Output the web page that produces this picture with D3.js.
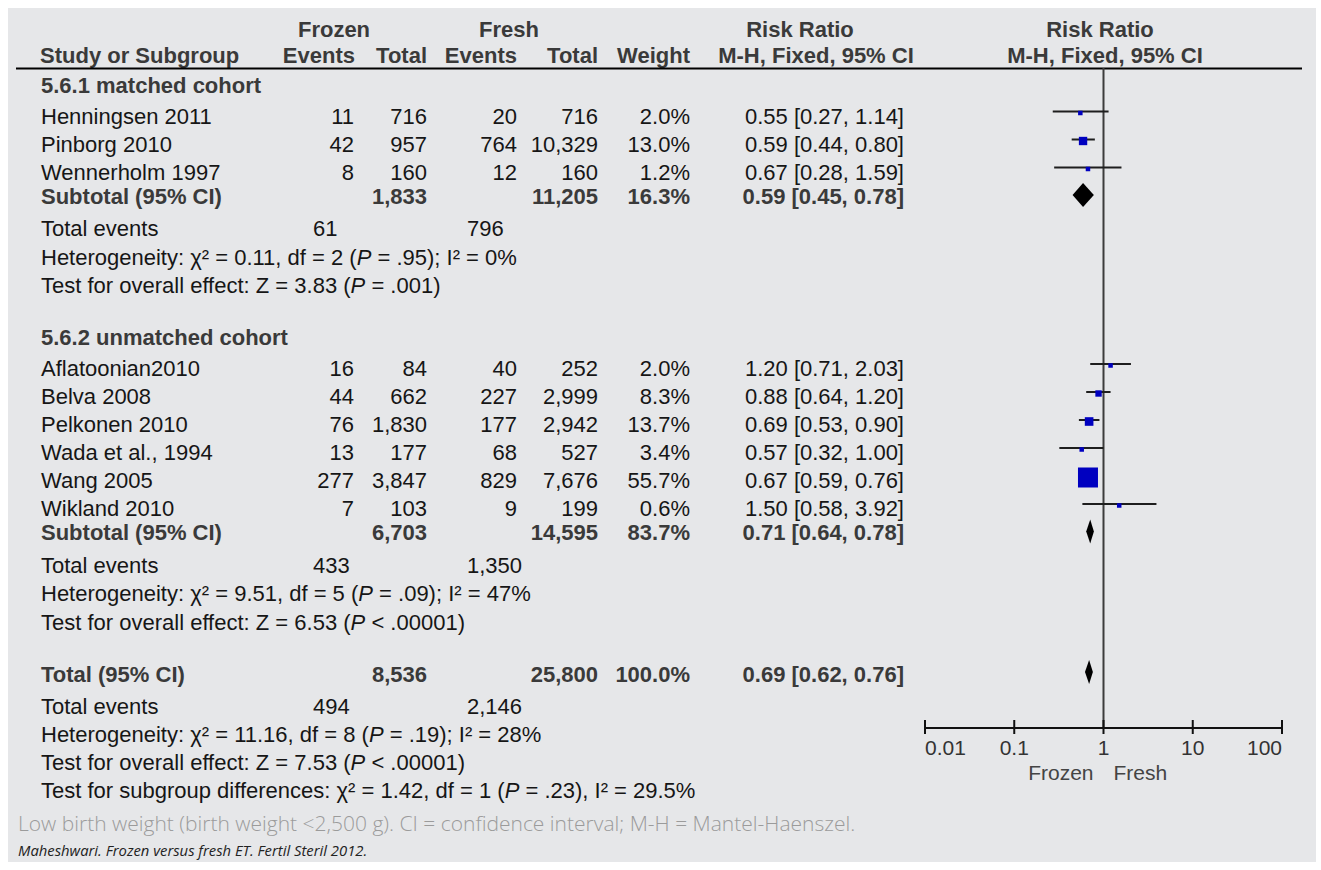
<!DOCTYPE html>
<html>
<head>
<meta charset="utf-8">
<script src="https://cdn.jsdelivr.net/npm/d3@7"></script>
<style>
  html, body { margin: 0; padding: 0; background: #ffffff; }
  svg { display: block; }
  text { font-family: "Liberation Sans", Arial, Helvetica, sans-serif; }
</style>
</head>
<body>
<svg id="chart" width="1321" height="870"></svg>
<script>
// ---- Study-level data (low birth weight, frozen vs fresh embryo transfer) ----
const studyNames     = ["Henningsen 2011", "Pinborg 2010", "Wennerholm 1997",
                        "Aflatoonian2010", "Belva 2008", "Pelkonen 2010",
                        "Wada et al., 1994", "Wang 2005", "Wikland 2010"];
const studySubgroup  = [0, 0, 0, 1, 1, 1, 1, 1, 1];
const frozenEvents   = [11, 42, 8, 16, 44, 76, 13, 277, 7];
const frozenTotals   = [716, 957, 160, 84, 662, 1830, 177, 3847, 103];
const freshEvents    = [20, 764, 12, 40, 227, 177, 68, 829, 9];
const freshTotals    = [716, 10329, 160, 252, 2999, 2942, 527, 7676, 199];
const studyWeights   = [2.0, 13.0, 1.2, 2.0, 8.3, 13.7, 3.4, 55.7, 0.6];
const studyRR        = [0.55, 0.59, 0.67, 1.20, 0.88, 0.69, 0.57, 0.67, 1.50];
const studyLower     = [0.27, 0.44, 0.28, 0.71, 0.64, 0.53, 0.32, 0.59, 0.58];
const studyUpper     = [1.14, 0.80, 1.59, 2.03, 1.20, 0.90, 1.00, 0.76, 3.92];

// ---- Subgroup summaries ----
const subgroupNames        = ["5.6.1 matched cohort", "5.6.2 unmatched cohort"];
const subgroupFrozenTotal  = [1833, 6703];
const subgroupFreshTotal   = [11205, 14595];
const subgroupWeight       = [16.3, 83.7];
const subgroupRR           = [0.59, 0.71];
const subgroupLower        = [0.45, 0.64];
const subgroupUpper        = [0.78, 0.78];
const subgroupFrozenEvents = [61, 433];
const subgroupFreshEvents  = [796, 1350];
const subgroupChi2         = ["0.11", "9.51"];
const subgroupDf           = [2, 5];
const subgroupP            = ["= .95", "= .09"];
const subgroupI2           = ["0%", "47%"];
const subgroupZ            = ["3.83", "6.53"];
const subgroupZP           = ["= .001", "< .00001"];

// ---- Overall pooled result ----
const totalFrozenTotal  = 8536;
const totalFreshTotal   = 25800;
const totalWeight       = 100.0;
const totalRR           = 0.69;
const totalLower        = 0.62;
const totalUpper        = 0.76;
const totalFrozenEvents = 494;
const totalFreshEvents  = 2146;
const totalChi2 = "11.16", totalDf = 8, totalP = "= .19", totalI2 = "28%";
const totalZ = "7.53", totalZP = "< .00001";
const diffChi2 = "1.42", diffDf = 1, diffP = "= .23", diffI2 = "29.5%";

// ---- Axis ----
const axisTicks      = [0.01, 0.1, 1, 10, 100];
const axisTickLabels = ["0.01", "0.1", "1", "10", "100"];
const favoursLabels  = ["Frozen", "Fresh"];

const footnote = "Low birth weight (birth weight <2,500 g). CI = confidence interval; M-H = Mantel-Haenszel.";
const citation = "Maheshwari. Frozen versus fresh ET. Fertil Steril 2012.";

// ---------------------------------------------------------------------------
const svg = d3.select("#chart");

const FS = 22;                  // main table font size
const DARK = "#161616";
const BOLD = "#3a3a3a";

svg.append("rect").attr("x", 8).attr("y", 8).attr("width", 1308).attr("height", 854)
  .attr("fill", "#e6e7e9");

// Column anchors (right edges unless stated)
const col = {
  label: 41,
  fzEv: 354, fzTot: 427, frEv: 517, frTot: 598, weight: 690, ci: 904,
  teFz: 313, teFr: 467
};

const x = d3.scaleLog().domain([0.01, 100]).range([925, 1282]);
const boxSize = d3.scalePow().exponent(0.6).domain([0, 55.7]).range([0, 20]);

const fmtInt = d3.format(",");
const fmtW = d => d3.format(".1f")(d) + "%";
const fmtR = d3.format(".2f");
const fmtCI = (r, l, u) => `${fmtR(r)} [${fmtR(l)}, ${fmtR(u)}]`;

function txt(xp, yp, s, opts = {}) {
  const t = svg.append("text")
    .attr("x", xp).attr("y", yp).attr("dy", "0.36em")
    .attr("font-size", opts.size || FS)
    .attr("font-weight", opts.bold ? "bold" : "normal")
    .attr("fill", opts.fill || (opts.bold ? BOLD : DARK))
    .attr("text-anchor", opts.anchor || "start")
    .text(s);
  if (opts.family) t.style("font-family", opts.family);
  if (opts.italic) t.attr("font-style", "italic");
  return t;
}

// Rich text with italic P and chi symbol
function rich(xp, yp, parts) {
  const t = svg.append("text")
    .attr("x", xp).attr("y", yp).attr("dy", "0.36em")
    .attr("font-size", FS).attr("fill", DARK);
  parts.forEach(p => {
    const ts = t.append("tspan").text(p.t);
    if (p.i) ts.attr("font-style", "italic");
  });
  return t;
}
const heteroParts = (chi, df, p, i2) => [
  { t: "Heterogeneity: χ² = " + chi + ", df = " + df + " (" },
  { t: "P", i: true }, { t: " " + p + "); I² = " + i2 }
];
const effectParts = (z, p) => [
  { t: "Test for overall effect: Z = " + z + " (" },
  { t: "P", i: true }, { t: " " + p + ")" }
];

// ---- Header ----
txt(334, 29, "Frozen", { bold: true, anchor: "middle" });
txt(509, 29, "Fresh", { bold: true, anchor: "middle" });
txt(800, 29, "Risk Ratio", { bold: true, anchor: "middle" });
txt(1100, 29, "Risk Ratio", { bold: true, anchor: "middle" });
const h2 = 55.5;
txt(col.label - 1, h2, "Study or Subgroup", { bold: true });
txt(col.fzEv + 1, h2, "Events", { bold: true, anchor: "end" });
txt(col.fzTot, h2, "Total", { bold: true, anchor: "end" });
txt(col.frEv, h2, "Events", { bold: true, anchor: "end" });
txt(col.frTot, h2, "Total", { bold: true, anchor: "end" });
txt(col.weight, h2, "Weight", { bold: true, anchor: "end" });
txt(816, h2, "M-H, Fixed, 95% CI", { bold: true, anchor: "middle" });
txt(1105, h2, "M-H, Fixed, 95% CI", { bold: true, anchor: "middle" });

svg.append("line").attr("x1", 16).attr("x2", 1302).attr("y1", 68.5).attr("y2", 68.5)
  .attr("stroke", "#000").attr("stroke-width", 2);

// ---- Vertical line of no effect ----
const axisY = 728;
svg.append("line").attr("x1", x(1)).attr("x2", x(1)).attr("y1", 68).attr("y2", axisY)
  .attr("stroke", "#3c3c3c").attr("stroke-width", 2);

// ---- Body rows ----
let y = 85;
const plotLayer = svg.append("g");

function drawDiamond(yc, r, l, u, h) {
  plotLayer.append("path")
    .attr("d", `M${x(l)},${yc} L${x(r)},${yc - h / 2} L${x(u)},${yc} L${x(r)},${yc + h / 2} Z`)
    .attr("fill", "#000");
}

subgroupNames.forEach((name, g) => {
  txt(col.label, y, name, { bold: true });
  y += 31;
  studyNames.forEach((s, i) => {
    if (studySubgroup[i] !== g) return;
    txt(col.label, y, s);
    txt(col.fzEv, y, frozenEvents[i], { anchor: "end" });
    txt(col.fzTot, y, fmtInt(frozenTotals[i]), { anchor: "end" });
    txt(col.frEv, y, freshEvents[i], { anchor: "end" });
    txt(col.frTot, y, fmtInt(freshTotals[i]), { anchor: "end" });
    txt(col.weight, y, fmtW(studyWeights[i]), { anchor: "end" });
    txt(col.ci, y, fmtCI(studyRR[i], studyLower[i], studyUpper[i]), { anchor: "end" });
    // CI whisker and weighted box
    const ly = y - 4.5;
    plotLayer.append("line")
      .attr("x1", x(studyLower[i])).attr("x2", x(studyUpper[i]))
      .attr("y1", ly).attr("y2", ly)
      .attr("stroke", "#1e1e1e").attr("stroke-width", 2);
    const b = Math.max(4.5, boxSize(studyWeights[i]));
    plotLayer.append("rect")
      .attr("x", x(studyRR[i]) - b / 2).attr("y", ly - b / 2 + 1.5)
      .attr("width", b).attr("height", b)
      .attr("fill", "#0000c0");
    y += 28;
  });
  y -= 4;
  txt(col.label, y, "Subtotal (95% CI)", { bold: true });
  txt(col.fzTot, y, fmtInt(subgroupFrozenTotal[g]), { bold: true, anchor: "end" });
  txt(col.frTot, y, fmtInt(subgroupFreshTotal[g]), { bold: true, anchor: "end" });
  txt(col.weight, y, fmtW(subgroupWeight[g]), { bold: true, anchor: "end" });
  txt(col.ci, y, fmtCI(subgroupRR[g], subgroupLower[g], subgroupUpper[g]), { bold: true, anchor: "end" });
  drawDiamond(y - 1, subgroupRR[g], subgroupLower[g], subgroupUpper[g], 24);
  y += 32.5;
  txt(col.label, y, "Total events");
  txt(col.teFz, y, fmtInt(subgroupFrozenEvents[g]));
  txt(col.teFr, y, fmtInt(subgroupFreshEvents[g]));
  y += 28.5;
  rich(col.label, y, heteroParts(subgroupChi2[g], subgroupDf[g], subgroupP[g], subgroupI2[g]));
  y += 28.5;
  rich(col.label, y, effectParts(subgroupZ[g], subgroupZP[g]));
  y += 52;
});

// ---- Overall ----
txt(col.label, y, "Total (95% CI)", { bold: true });
txt(col.fzTot, y, fmtInt(totalFrozenTotal), { bold: true, anchor: "end" });
txt(col.frTot, y, fmtInt(totalFreshTotal), { bold: true, anchor: "end" });
txt(col.weight, y, fmtW(totalWeight), { bold: true, anchor: "end" });
txt(col.ci, y, fmtCI(totalRR, totalLower, totalUpper), { bold: true, anchor: "end" });
drawDiamond(y - 2, totalRR, totalLower, totalUpper, 24);
y += 32;
txt(col.label, y, "Total events");
txt(col.teFz, y, fmtInt(totalFrozenEvents));
txt(col.teFr, y, fmtInt(totalFreshEvents));
y += 28;
rich(col.label, y, heteroParts(totalChi2, totalDf, totalP, totalI2));
y += 28;
rich(col.label, y, effectParts(totalZ, totalZP));
y += 28;
rich(col.label, y, [
  { t: "Test for subgroup differences: χ² = " + diffChi2 + ", df = " + diffDf + " (" },
  { t: "P", i: true }, { t: " " + diffP + "), I² = " + diffI2 }
]);

// ---- Log axis ----
const axisG = svg.append("g").attr("transform", `translate(0,${axisY})`);
axisG.append("line").attr("x1", x(0.01)).attr("x2", x(100))
  .attr("stroke", "#111").attr("stroke-width", 2);
axisG.selectAll("line.tick").data(axisTicks).join("line")
  .attr("class", "tick")
  .attr("x1", d => x(d)).attr("x2", d => x(d))
  .attr("y1", -8).attr("y2", 6)
  .attr("stroke", "#111").attr("stroke-width", 2);
axisG.selectAll("text.tl").data(axisTicks).join("text")
  .attr("class", "tl")
  .attr("x", d => x(d)).attr("y", 19).attr("dy", "0.36em")
  .attr("font-size", 21).attr("fill", "#333")
  .attr("text-anchor", (d, i) => i === 0 ? "start" : i === axisTicks.length - 1 ? "end" : "middle")
  .text((d, i) => axisTickLabels[i]);
axisG.append("text").attr("x", x(1) - 10).attr("y", 44).attr("dy", "0.36em")
  .attr("font-size", 21).attr("fill", "#444").attr("text-anchor", "end").text(favoursLabels[0]);
axisG.append("text").attr("x", x(1) + 10).attr("y", 44).attr("dy", "0.36em")
  .attr("font-size", 21).attr("fill", "#444").attr("text-anchor", "start").text(favoursLabels[1]);

// ---- Footnotes ----
txt(18, 823, footnote, { size: 21, fill: "#9b9b9b", family: "'Open Sans', sans-serif" })
  .attr("font-weight", 300);
txt(18, 851, citation, { size: 14.8, fill: "#222", italic: true, family: "'Open Sans', sans-serif" });
</script>
</body>
</html>
